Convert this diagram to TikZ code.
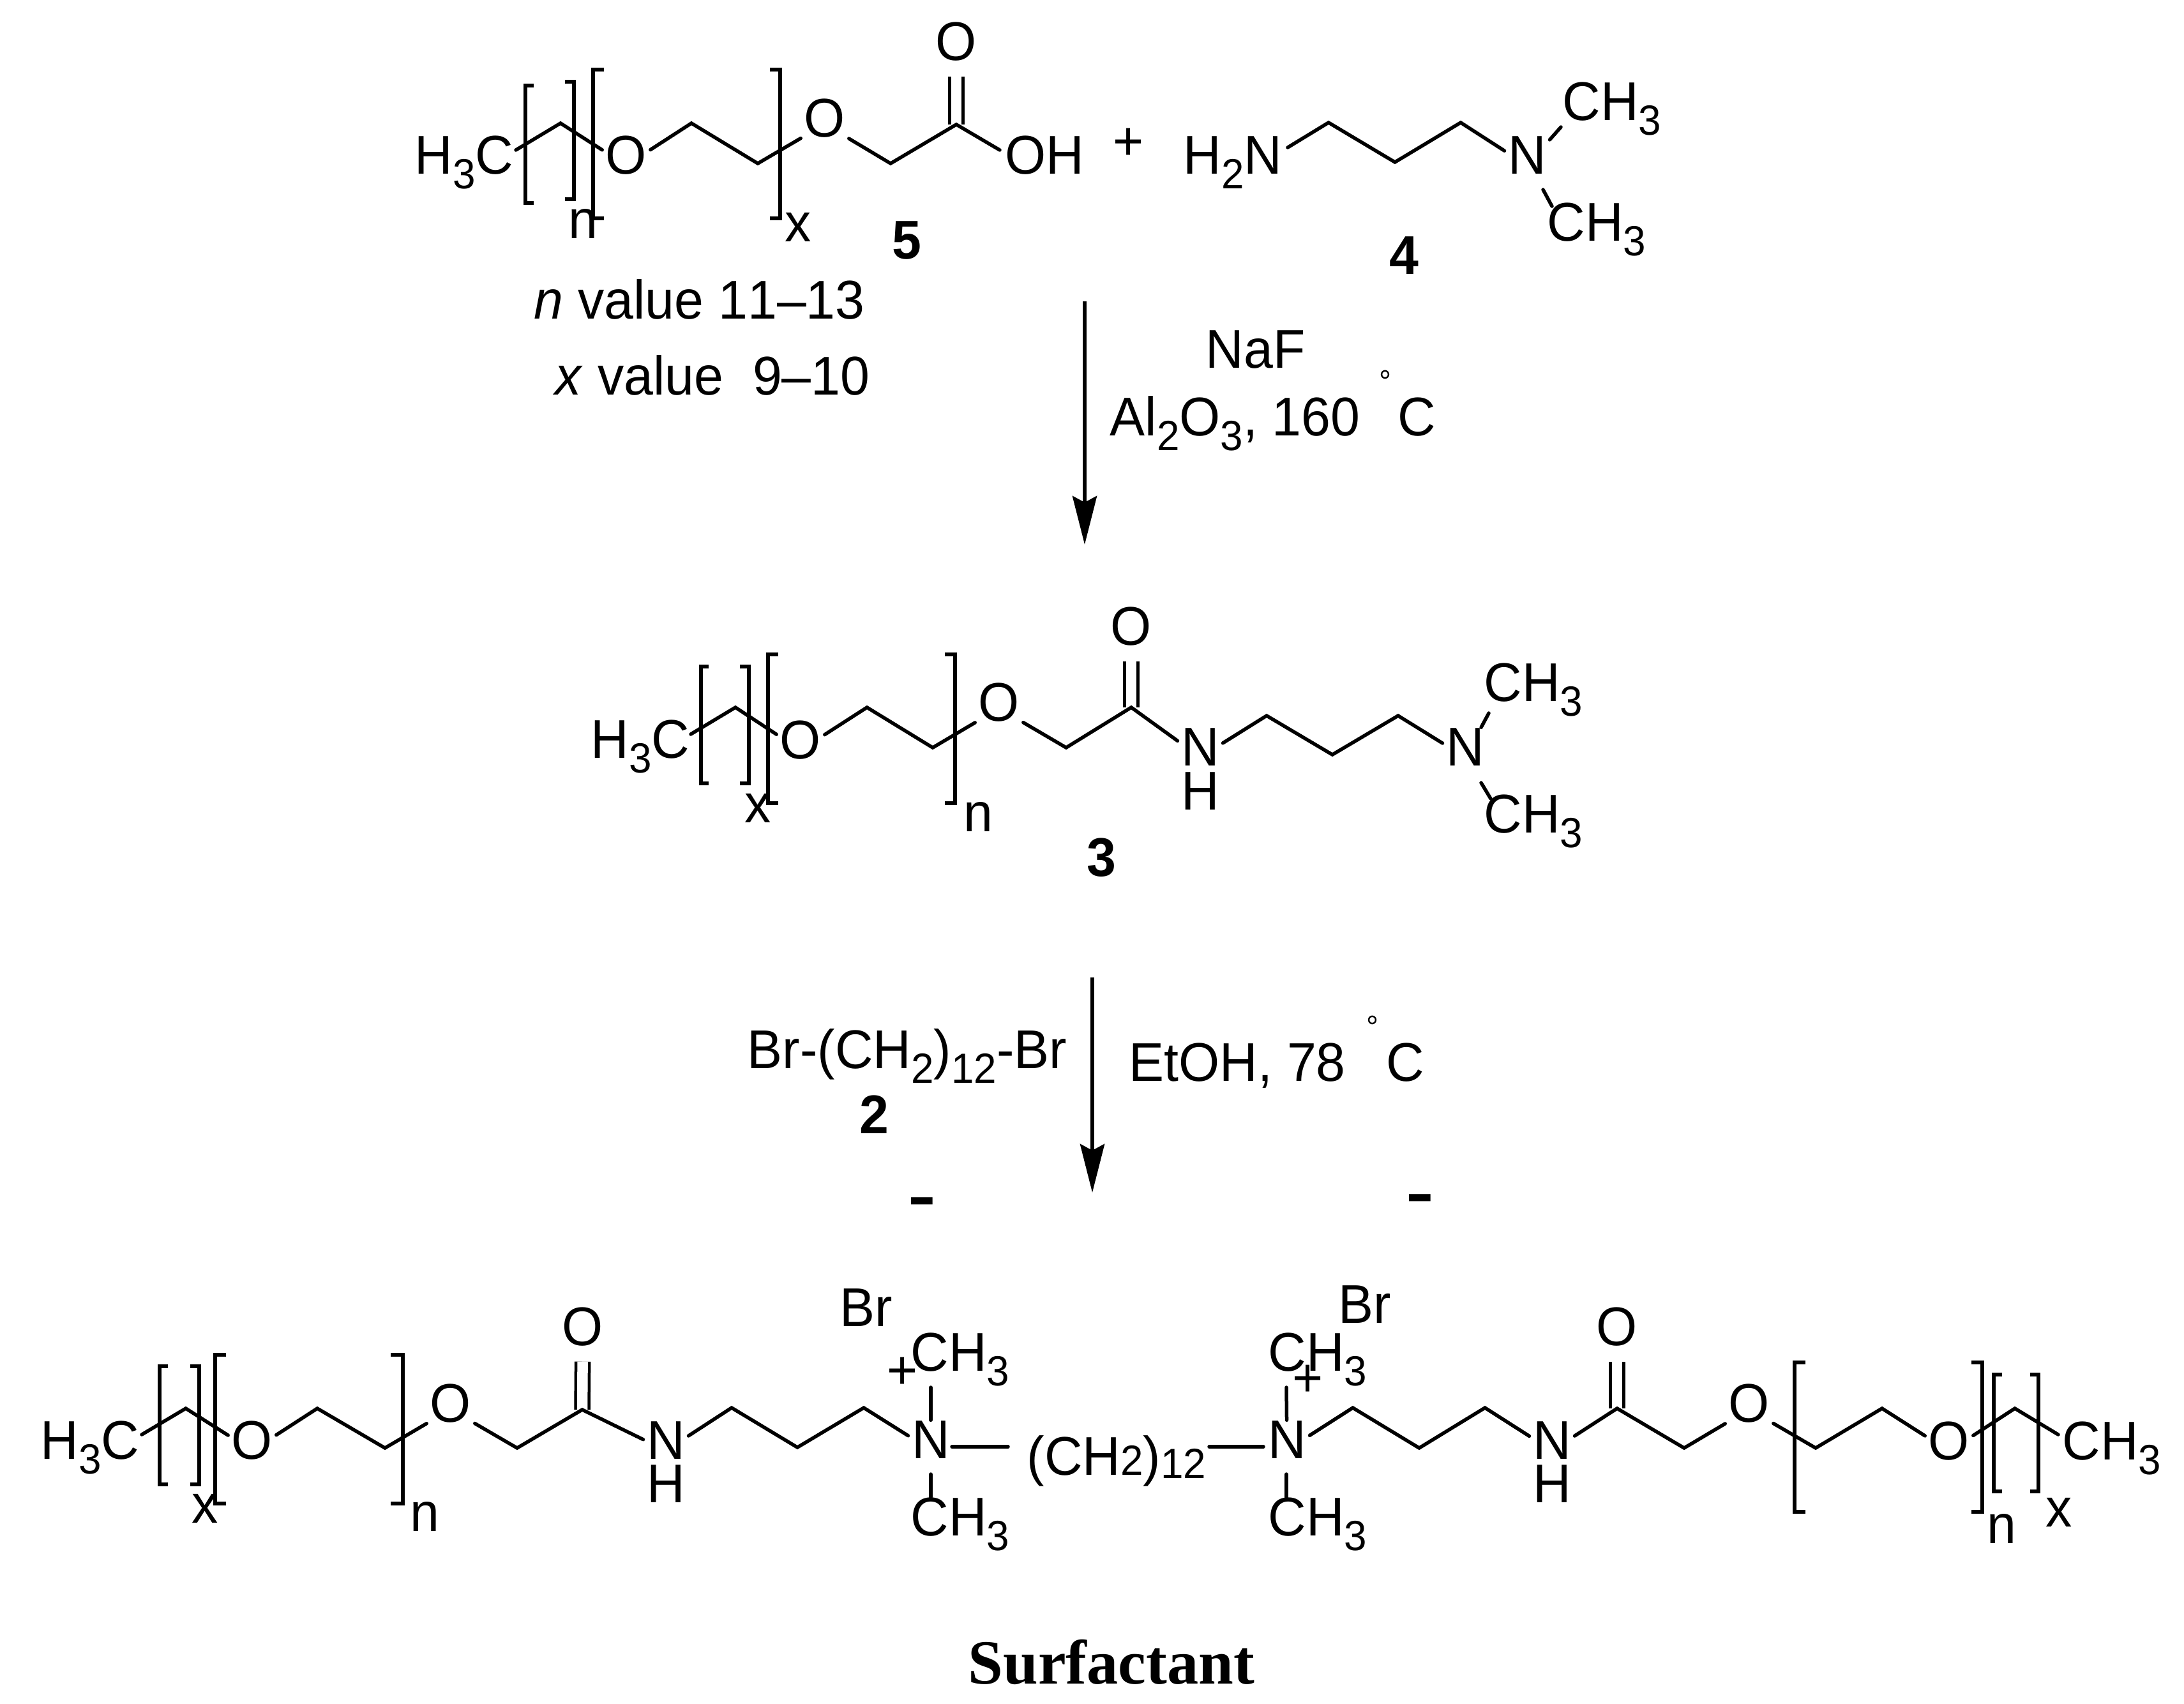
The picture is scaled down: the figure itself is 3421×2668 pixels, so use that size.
\documentclass[tikz,border=0pt]{standalone}
\usepackage{graphicx}
\usepackage{fontspec}
\setmainfont[FakeStretch=.965,Kerning=Off]{Liberation Sans}
\newfontfamily\capfont{Liberation Serif}
\usetikzlibrary{arrows.meta}
\newcommand{\lowidx}[1]{\raisebox{-.28em}{\fontsize{18.8}{18.8}\selectfont #1}}
\newcommand{\degsign}{\raisebox{.67cm}{\fontsize{14}{14}\selectfont °}}
\tikzset{
	every node/.style={inner sep=0pt,font=\fontsize{24.3}{28}\selectfont},
	atom/.style={anchor=base,inner xsep=.05cm,text height=.59cm,text depth=.33cm},
	atomhi/.style={anchor=base,inner xsep=.05cm,text height=.59cm,text depth=.2cm},
	chem/.style={anchor=base west},
	plain/.style={anchor=base},
	idx/.style={anchor=base,font=\fontsize{24.3}{28}\selectfont\bfseries},
	charge/.style={anchor=base,font=\fontsize{20}{24}\selectfont\bfseries},
	bond/.style={line width=.055cm,line cap=round,line join=miter},
	dblbond/.style={line width=.045cm,double,double distance=.165cm,shorten >=.05cm},
	brack/.style={line width=.055cm},
	rxnarrow/.style={line width=.06cm,-{Stealth[length=.76cm,width=.38cm,inset=.1cm]}}
}
\begin{document}
\begin{tikzpicture}[x=.01cm,y=-.01cm]
	\useasboundingbox (0,0) rectangle (3421,2668);

	\node[chem] (hcfive) at (649,272) {H\lowidx{3}C};
	\node[atom] (ofivea) at (981,272) {O};
	\node[atomhi] (ofiveb) at (1292,214) {O};
	\node[atomhi] (ofivec) at (1498,94) {O};
	\node[chem] (ohfive) at (1574,272) {OH};
	\coordinate (a1) at (808,235);
	\coordinate (a2) at (878,193);
	\coordinate (a3) at (1083,193);
	\coordinate (a4) at (1187,256);
	\coordinate (a5) at (1395,256);
	\coordinate (a6) at (1498,195);
	\coordinate (a7) at (1566,235);
	\draw[dblbond] (a6) -- (ofivec);
	\draw[bond] (a1) -- (a2) -- (ofivea) -- (a3) -- (a4) -- (ofiveb) -- (a5) -- (a6) -- (a7);
	\draw[brack] (836,134) -- (823,134) -- (823,318) -- (836,318);
	\draw[brack] (885,128) -- (899,128) -- (899,312) -- (885,312);
	\draw[brack] (946,109) -- (929,109) -- (929,342) -- (946,342);
	\draw[brack] (1206,109) -- (1222,109) -- (1222,342) -- (1206,342);
	\node[plain] (nfive) at (913,373) {n};
	\node[plain] (xfive) at (1250,378) {x};
	\node[idx] (labfive) at (1420,405) {5};
	\node[plain] (plus) at (1768,250) {+};
	\node[chem] (nvalue) at (836,499) {\textit{n} value 11–13};
	\node[chem] (xvalue) at (869,618) {\textit{x} value\ \ 9–10};

	\node[chem] (htwon) at (1853,272) {H\lowidx{2}N};
	\node[atom] (nfour) at (2392,272) {N};
	\node[chem] (cfoura) at (2447,188) {CH\lowidx{3}};
	\node[chem] (cfourb) at (2423,377) {CH\lowidx{3}};
	\coordinate (b1) at (2017,231);
	\coordinate (b2) at (2081,192);
	\coordinate (b3) at (2185,254);
	\coordinate (b4) at (2288,192);
	\coordinate (b5) at (2445,199);
	\coordinate (b6) at (2417,297);
	\coordinate (b7) at (2431,323);
	\draw[bond] (b1) -- (b2) -- (b3) -- (b4) -- (nfour);
	\draw[bond] (nfour) -- (b5);
	\draw[bond] (b6) -- (b7);
	\node[idx] (labfour) at (2199,429) {4};

	\coordinate (s1) at (1699,472);
	\coordinate (t1) at (1699,853);
	\draw[rxnarrow] (s1) -- (t1);
	\node[chem] (naf) at (1888,576) {NaF};
	\node[chem] (alox) at (1738,682) {Al\lowidx{2}O\lowidx{3}, 160\hspace{.3cm}\degsign\hspace{.1cm}C};

	\node[chem] (hcthree) at (925,1187) {H\lowidx{3}C};
	\node[atom] (othreea) at (1254,1188) {O};
	\node[atomhi] (othreeb) at (1565,1129) {O};
	\node[atomhi] (othreec) at (1772,1010) {O};
	\node[atom] (nthreea) at (1880,1199) {N};
	\node[plain] (hthree) at (1880,1268) {H};
	\node[atom] (nthreeb) at (2295,1199) {N};
	\node[chem] (cthreea) at (2324,1098) {CH\lowidx{3}};
	\node[chem] (cthreeb) at (2324,1304) {CH\lowidx{3}};
	\coordinate (c1) at (1082,1150);
	\coordinate (c2) at (1152,1108);
	\coordinate (c3) at (1358,1108);
	\coordinate (c4) at (1461,1171);
	\coordinate (c5) at (1670,1171);
	\coordinate (c6) at (1772,1108);
	\coordinate (c7) at (1984,1121);
	\coordinate (c8) at (2087,1182);
	\coordinate (c9) at (2190,1121);
	\coordinate (c10) at (2332,1117);
	\coordinate (c11) at (2320,1226);
	\coordinate (c12) at (2335,1251);
	\draw[dblbond] (c6) -- (othreec);
	\draw[bond] (c1) -- (c2) -- (othreea) -- (c3) -- (c4) -- (othreeb) -- (c5) -- (c6) -- (nthreea);
	\draw[bond] (nthreea) -- (c7) -- (c8) -- (c9) -- (nthreeb);
	\draw[bond] (nthreeb) -- (c10);
	\draw[bond] (c11) -- (c12);
	\draw[brack] (1110,1044) -- (1098,1044) -- (1098,1227) -- (1110,1227);
	\draw[brack] (1159,1044) -- (1173,1044) -- (1173,1227) -- (1159,1227);
	\draw[brack] (1219,1025) -- (1203,1025) -- (1203,1258) -- (1219,1258);
	\draw[brack] (1480,1025) -- (1496,1025) -- (1496,1258) -- (1480,1258);
	\node[plain] (xthree) at (1187,1288) {x};
	\node[plain] (nthree) at (1532,1302) {n};
	\node[idx] (labthree) at (1725,1372) {3};

	\coordinate (s2) at (1711,1531);
	\coordinate (t2) at (1711,1868);
	\draw[rxnarrow] (s2) -- (t2);
	\node[chem] (brbr) at (1170,1673) {Br-(CH\lowidx{2})\lowidx{12}-Br};
	\node[idx] (labtwo) at (1369,1775) {2};
	\node[chem] (etoh) at (1768,1693) {EtOH, 78\hspace{.33cm}\degsign\hspace{.12cm}C};
	\node[charge] (minusa) at (1444,1911) {\scalebox{1}[1.6]{–}};
	\node[charge] (minusb) at (2224,1906) {\scalebox{1}[1.6]{–}};

	\node[chem] (hcleft) at (63,2285) {H\lowidx{3}C};
	\node[atom] (oleft) at (395,2285) {O};
	\node[atomhi] (olefta) at (706,2227) {O};
	\node[atomhi] (oleftb) at (913,2107) {O};
	\node[atom] (nleft) at (1043,2285) {N};
	\node[plain] (hleft) at (1043,2353) {H};
	\node[atom] (nquata) at (1458,2284) {N};
	\node[chem] (cquata) at (1426,2147) {CH\lowidx{3}};
	\node[chem] (cquatb) at (1426,2405) {CH\lowidx{3}};
	\node[chem] (brlft) at (1315,2077) {Br};
	\node[plain] (pluslft) at (1414,2175) {+};
	\node[chem] (spacer) at (1608,2310) {(CH{\fontsize{18.8}{18.8}\selectfont 2})\lowidx{\raisebox{.28em}{12}}};
	\node[atom] (nquatb) at (2016,2284) {N};
	\node[chem] (cquatc) at (1986,2147) {CH\lowidx{3}};
	\node[chem] (cquatd) at (1986,2405) {CH\lowidx{3}};
	\node[chem] (brrgt) at (2096,2072) {Br};
	\node[plain] (plusrgt) at (2049,2187) {+};
	\node[atom] (nright) at (2431,2285) {N};
	\node[plain] (hright) at (2431,2353) {H};
	\node[atomhi] (orighta) at (2533,2107) {O};
	\node[atomhi] (orightb) at (2740,2227) {O};
	\node[atom] (oright) at (3053,2286) {O};
	\node[chem] (chright) at (3230,2286) {CH\lowidx{3}};
	\coordinate (d1) at (222,2247);
	\coordinate (d2) at (291,2206);
	\coordinate (d3) at (497,2206);
	\coordinate (d4) at (603,2268);
	\coordinate (d5) at (810,2268);
	\coordinate (d6) at (912,2208);
	\coordinate (d7) at (1146,2205);
	\coordinate (d8) at (1249,2267);
	\coordinate (d9) at (1353,2205);
	\coordinate (d10) at (1458,2173);
	\coordinate (d11) at (1458,2309);
	\coordinate (d12) at (1458,2345);
	\coordinate (d13) at (1491,2266);
	\coordinate (d14) at (1579,2266);
	\coordinate (e1) at (1894,2266);
	\coordinate (e2) at (1979,2266);
	\coordinate (e3) at (2015,2173);
	\coordinate (e4) at (2015,2309);
	\coordinate (e5) at (2015,2345);
	\coordinate (e6) at (2119,2205);
	\coordinate (e7) at (2223,2268);
	\coordinate (e8) at (2326,2205);
	\coordinate (e9) at (2533,2206);
	\coordinate (e10) at (2638,2268);
	\coordinate (e11) at (2844,2268);
	\coordinate (e12) at (2948,2206);
	\coordinate (e13) at (3156,2206);
	\coordinate (e14) at (3224,2247);
	\draw[dblbond] (d6) -- (oleftb);
	\draw[dblbond] (e9) -- (orighta);
	\draw[bond] (d1) -- (d2) -- (oleft) -- (d3) -- (d4) -- (olefta) -- (d5) -- (d6) -- (nleft);
	\draw[bond] (nleft) -- (d7) -- (d8) -- (d9) -- (nquata);
	\draw[bond] (nquata) -- (d10);
	\draw[bond] (d11) -- (d12);
	\draw[bond] (d13) -- (d14);
	\draw[bond] (e1) -- (e2);
	\draw[bond] (nquatb) -- (e3);
	\draw[bond] (e4) -- (e5);
	\draw[bond] (nquatb) -- (e6) -- (e7) -- (e8) -- (nright);
	\draw[bond] (nright) -- (e9) -- (e10) -- (orightb) -- (e11) -- (e12) -- (oright) -- (e13) -- (e14);
	\draw[brack] (263,2140) -- (250,2140) -- (250,2325) -- (263,2325);
	\draw[brack] (298,2140) -- (312,2140) -- (312,2325) -- (298,2325);
	\draw[brack] (354,2122) -- (337,2122) -- (337,2355) -- (354,2355);
	\draw[brack] (612,2122) -- (631,2122) -- (631,2355) -- (612,2355);
	\draw[brack] (2828,2134) -- (2811,2134) -- (2811,2368) -- (2828,2368);
	\draw[brack] (3088,2134) -- (3105,2134) -- (3105,2368) -- (3088,2368);
	\draw[brack] (3136,2153) -- (3123,2153) -- (3123,2336) -- (3136,2336);
	\draw[brack] (3180,2153) -- (3193,2153) -- (3193,2336) -- (3180,2336);
	\node[plain] (xleft) at (321,2385) {x};
	\node[plain] (nlow) at (665,2398) {n};
	\node[plain] (nhigh) at (3135,2417) {n};
	\node[plain] (xright) at (3225,2391) {x};
	\node[anchor=base,font=\capfont\fontsize{28}{32}\selectfont\bfseries] (title) at (1741,2637) {Surfactant};
\end{tikzpicture}
\end{document}
